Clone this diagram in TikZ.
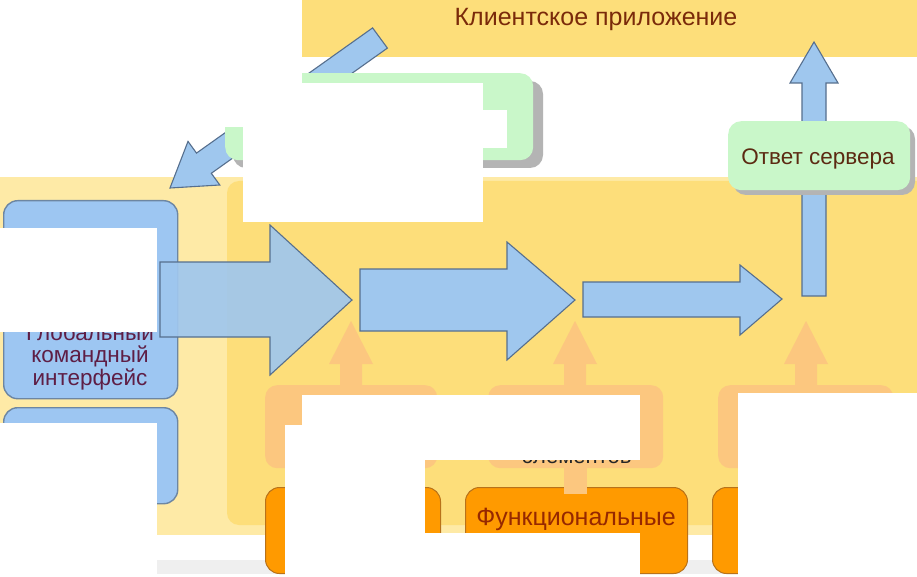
\documentclass[tikz,border=0pt]{standalone}
\usepackage{fontspec}
\setmainfont{Liberation Sans}
\begin{document}
\begin{tikzpicture}[x=1pt,y=-1pt,
  bluearrow/.style={fill=arrowblue,draw=arrowedge,line width=1.1pt,line join=miter},
  orarrow/.style={fill=lightorange,draw=none},
  bluebox/.style={fill=boxblue,draw=boxedge,line width=1.4pt,rounded corners=14pt},
  greenbox/.style={fill=mint,draw=none,rounded corners=13pt},
  gshadow/.style={fill=shadowgray,draw=none,rounded corners=13pt},
  lobox/.style={fill=lightorange,draw=none,rounded corners=12pt},
  dobox/.style={fill=darkorange,draw=orangeedge,line width=1pt,rounded corners=14pt},
  mask/.style={fill=white,draw=none},
  lbl/.style={inner sep=0pt,anchor=base}]
\definecolor{bandyellow}{HTML}{FDDE7A}
\definecolor{paleyellow}{HTML}{FEEAA6}
\definecolor{arrowblue}{HTML}{9FC7EE}
\definecolor{arrowedge}{HTML}{566F8E}
\definecolor{boxblue}{HTML}{9DC6F2}
\definecolor{boxedge}{HTML}{6D86A2}
\definecolor{mint}{HTML}{C9F7C9}
\definecolor{shadowgray}{HTML}{B4B4B4}
\definecolor{lightorange}{HTML}{FCC77F}
\definecolor{darkorange}{HTML}{FF9A00}
\definecolor{orangeedge}{HTML}{B8721A}
\definecolor{titlered}{HTML}{7A2A0A}
\definecolor{answerbrown}{HTML}{5C2A12}
\definecolor{purpletext}{HTML}{5E1E45}
\definecolor{functext}{HTML}{962800}
\definecolor{stripgray}{HTML}{EFEFEF}
\useasboundingbox (0,0) rectangle (917,577);
\fill[white] (0,0) rectangle (917,577);
% background bands
\fill[stripgray] (0,560) rectangle (917,574);
\fill[bandyellow] (302,0) rectangle (917,57);
\fill[paleyellow] (0,177) rectangle (917,535);
\fill[bandyellow,rounded corners=12pt] (227,181) rectangle (940,525);
% request arrow (top band -> left panel)
\draw[bluearrow] (372.6,27.9) -- (387.4,48.1) -- (211.3,173.3) -- (219.8,185.0)
  -- (170,188) -- (188.0,141.4) -- (196.5,153.1) -- cycle;
% request box
\fill[gshadow] (233,81) rectangle (543,168);
\node[greenbox,minimum width=308pt,minimum height=87pt,anchor=north west] (req) at (225,73) {};
% answer arrow and box
\draw[bluearrow] (802,296) -- (802,83) -- (790,83) -- (814,42) -- (838,83) -- (826,83) -- (826,296) -- cycle;
\fill[gshadow] (733,126) rectangle (915,195);
\node[greenbox,minimum width=182pt,minimum height=69pt,anchor=north west] (ans) at (728,121) {};
\node[lbl,text=answerbrown,font=\fontsize{22.5}{24}\selectfont] (anstext) at (818,165) {Ответ сервера};
% title
\node[lbl,text=titlered,font=\fontsize{25}{27}\selectfont] (title) at (596,26) {Клиентское приложение};
% left blue boxes
\node[bluebox,minimum width=174pt,minimum height=198pt,anchor=north west] (gci) at (3,200) {};
\node[bluebox,minimum width=174pt,minimum height=96pt,anchor=north west] (left2) at (3,407) {};
\node[lbl,text=purpletext,font=\fontsize{22.5}{24}\selectfont] (gcitext) at (90,340) {Глобальный};
\node[lbl,text=purpletext,font=\fontsize{22.5}{24}\selectfont] (gcitext2) at (90,362) {командный};
\node[lbl,text=purpletext,font=\fontsize{22.5}{24}\selectfont] (gcitext3) at (90,385) {интерфейс};
% light orange boxes and up arrows
\node[lobox,minimum width=172pt,minimum height=83pt,anchor=north west] (lo1) at (265,385) {};
\node[lobox,minimum width=175pt,minimum height=83pt,anchor=north west] (lo2) at (488,385) {};
\node[lobox,minimum width=175pt,minimum height=83pt,anchor=north west] (lo3) at (718,385) {};
\foreach \cx in {351,575,806}{
  \fill[lightorange] (\cx-11,390) -- (\cx-11,364) -- (\cx-22,364) -- (\cx,321)
    -- (\cx+22,364) -- (\cx+11,364) -- (\cx+11,390) -- cycle;
}
% dark orange boxes
\node[dobox,minimum width=175pt,minimum height=86pt,anchor=north west] (do1) at (265,487) {};
\node[dobox,minimum width=222pt,minimum height=86pt,anchor=north west] (do2) at (465,487) {};
\node[dobox,minimum width=181pt,minimum height=86pt,anchor=north west] (do3) at (712,487) {};
\fill[lightorange] (564,466) rectangle (587,494);
\node[lbl,text=functext,font=\fontsize{25}{27}\selectfont] (functext) at (576,525) {Функциональные};
\node[lbl,text=black!85,font=\fontsize{22}{24}\selectfont] (elemtext) at (577,463) {элементов};
% blue process arrows
\draw[bluearrow,fill opacity=0.92] (160,262) -- (270,262) -- (270,225) -- (352,300) -- (270,375) -- (270,337) -- (160,337) -- cycle;
\draw[bluearrow] (360,269) -- (507,269) -- (507,242) -- (575,300) -- (507,360) -- (507,331) -- (360,331) -- cycle;
\draw[bluearrow] (583,282) -- (740,282) -- (740,265) -- (782,299) -- (740,335) -- (740,317) -- (583,317) -- cycle;
% white masks
\fill[mask] (0,0) rectangle (302,127);
\fill[mask] (243,83) rectangle (483,222);
\fill[mask] (483,110) rectangle (507,148);
\fill[mask] (0,228) rectangle (157,332);
\fill[mask] (0,423) rectangle (157,577);
\fill[mask] (302,395) rectangle (640,460);
\fill[mask] (285,425) rectangle (425,577);
\fill[mask] (425,533) rectangle (640,577);
\fill[mask] (738,393) rectangle (917,577);
\end{tikzpicture}
\end{document}
